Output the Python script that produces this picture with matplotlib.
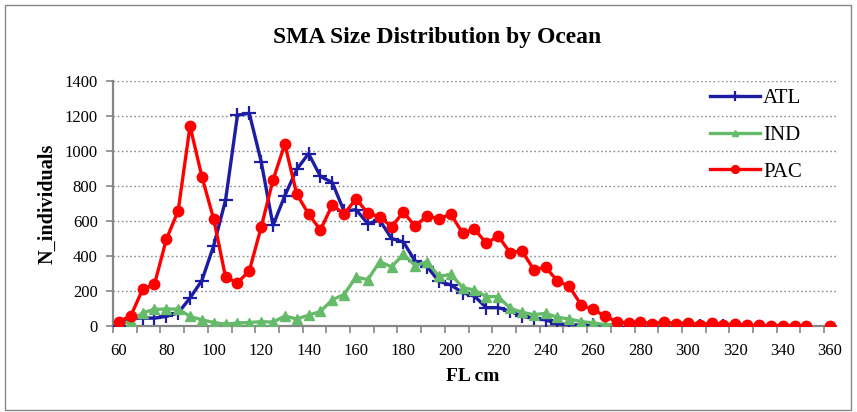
import numpy as np
import matplotlib
matplotlib.use("Agg")
import matplotlib.pyplot as plt
from matplotlib.patches import Rectangle

nan = np.nan
fl_cm = list(range(60, 365, 5))

atl = [0, 45, 45, 45, 55, 75, 160, 260, 460, 720, 1205, 1215, 940, 575, 745, 895,
       985, 855, 820, 655, 665, 585, 605, 500, 480, 370, 340, 255, 235, 190, 170,
       105, 105, 85, 55, 45, 35, 12, 8, 5, 5, 3, 3, 2, 2, 1, 1, 1, 1, 1, 1, 0, 0,
       nan, nan, nan, nan, nan, nan, nan, nan]
ind = [5, 30, 75, 95, 97, 97, 55, 35, 20, 10, 17, 20, 25, 22, 57, 40, 62, 83, 150,
       180, 280, 265, 368, 338, 410, 345, 368, 283, 296, 220, 205, 168, 168, 102,
       78, 65, 72, 50, 40, 25, 18, 8, 5, 5, 3, 3, 3, 2, 2, 2, 2, 2, 2,
       nan, nan, nan, nan, nan, nan, nan, nan]
pac = [25, 57, 210, 238, 495, 659, 1143, 853, 610, 278, 247, 315, 564, 834, 1040,
       754, 640, 549, 691, 640, 726, 646, 623, 568, 650, 570, 630, 611, 640, 530,
       553, 473, 514, 419, 430, 322, 335, 258, 226, 120, 95, 57, 25, 17, 25, 12,
       25, 12, 20, 8, 17, 8, 12, 3, 3, 2, 2, 2, 2, nan, 2]

x_labels = list(range(60, 380, 20))
y_ticks = list(range(0, 1600, 200))

serif = ["Liberation Serif", "DejaVu Serif"]
plt.rcParams["font.family"] = serif

fig = plt.figure(figsize=(8.57, 4.12), dpi=100)
fig.patches.append(Rectangle((5 / 857, 2 / 412), 846 / 857, 405 / 412,
                             transform=fig.transFigure, fill=False,
                             edgecolor="#868686", linewidth=1.0))

ax = fig.add_axes([113 / 857, 1 - 326 / 412, (836 - 113) / 857, (326 - 81) / 412])

ax.plot(fl_cm, atl, color="#1C1CA4", lw=2.4, marker="+", ms=10, mew=1.6,
        label="ATL", zorder=3)
ax.plot(fl_cm, ind, color="#66BB6A", lw=2.4, marker="^", ms=6.5,
        label="IND", zorder=4)
ax.plot(fl_cm, pac, color="#FF0000", lw=2.4, marker="o", ms=7.5,
        label="PAC", zorder=5)

ax.set_xlim(57.5, 362.5)
ax.set_ylim(0, 1400)
ax.set_yticks(y_ticks)
ax.set_xticks(x_labels)
ax.set_xticks(np.arange(57.5, 363, 10), minor=True)
ax.tick_params(axis="x", which="major", length=0, labelsize=12, pad=12, colors="black")
ax.tick_params(axis="x", which="minor", length=5, color="#868686", width=1.2)
ax.tick_params(axis="y", which="major", length=5, color="#868686", width=1.2,
               labelsize=12, pad=6)
ax.grid(axis="y", linestyle=(0, (1.2, 1.8)), color="#8C8C8C", lw=1.0)
for s in ["top", "right"]:
    ax.spines[s].set_visible(False)
for s in ["left", "bottom"]:
    ax.spines[s].set_color("#868686")
    ax.spines[s].set_linewidth(1.6)
ax.set_axisbelow(True)

ax.set_xlabel("FL cm", fontsize=14, fontweight="bold")
ax.set_ylabel("N_individuals", fontsize=14.5, fontweight="bold")
ax.xaxis.set_label_coords((473 - 113) / 723, (326 - 368) / 245)
ax.yaxis.set_label_coords((57 - 113) / 723, 0.5)
fig.text(437 / 857, 1 - 38 / 412, "SMA Size Distribution by Ocean",
         ha="center", va="center", fontsize=17, fontweight="bold")

leg = ax.legend(loc="upper left", bbox_to_anchor=(0.80, 1.045), frameon=False,
                fontsize=15, handlelength=2.4, labelspacing=0.82, handletextpad=0.15,
                markerscale=0.75)

fig.savefig("out.png", dpi=100)
